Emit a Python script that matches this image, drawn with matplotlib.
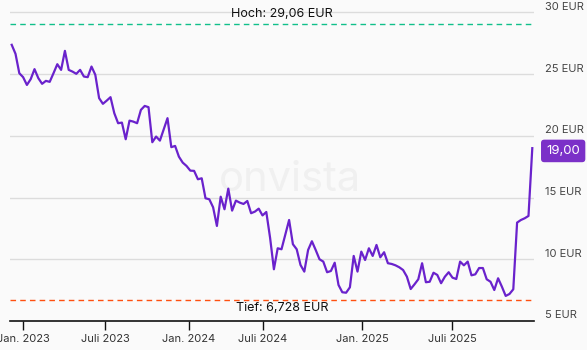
import matplotlib
matplotlib.use("Agg")
import matplotlib.pyplot as plt
from matplotlib.transforms import blended_transform_factory

plt.rcParams['font.family'] = ['Inter', 'DejaVu Sans']

# Kursverlauf (ca. wöchentliche Schlusskurse, EUR)
prices = [
    27.37, 26.64, 25.07, 24.75, 24.12, 24.59, 25.40, 24.67, 24.21, 24.45,
    24.37, 25.07, 25.80, 25.34, 26.88, 25.34, 25.20, 25.02, 25.34, 24.80,
    24.75, 25.61, 24.94, 23.05, 22.59, 22.85, 23.13, 21.83, 21.02, 21.07,
    19.72, 21.23, 21.15, 21.02, 22.10, 22.42, 22.32, 19.48, 19.94, 19.61,
    20.52, 21.43, 19.08, 19.18, 18.31, 17.83, 17.56, 17.18, 17.16, 16.48,
    16.56, 14.94, 14.86, 14.21, 12.70, 15.07, 14.05, 15.72, 13.94, 14.75,
    14.59, 14.48, 14.72, 13.73, 13.86, 14.10, 13.55, 13.83, 11.73, 9.19,
    10.89, 10.81, 12.00, 13.18, 11.22, 10.81, 9.54, 9.00, 10.75, 11.46,
    10.75, 10.00, 9.81, 8.95, 9.05, 9.72, 7.92, 7.33, 7.29, 7.73,
    10.27, 9.00, 10.62, 9.94, 10.89, 10.27, 11.16, 10.16, 10.57, 9.68,
    9.62, 9.51, 9.35, 9.13, 8.59, 7.59, 7.97, 8.38, 9.68, 8.14,
    8.18, 8.91, 8.73, 8.06, 8.59, 8.95, 8.51, 8.40, 9.81, 9.51,
    9.81, 8.70, 8.78, 9.29, 9.29, 8.38, 8.18, 7.51, 8.46, 7.78,
    7.03, 7.19, 7.57, 12.97, 13.18, 13.32, 13.51, 19.00,
]

high = 29.06
low = 6.728
last = 19.00

tick_pos = [3.05, 24.6, 46.6, 66.05, 92.3, 115.9]
tick_labels = ["Jan. 2023", "Juli 2023", "Jan. 2024", "Juli 2024", "Jan. 2025", "Juli 2025"]
y_levels = [5, 10, 15, 20, 25, 30]

bg = "#fafafa"
purple = "#6a22cc"

fig = plt.figure(figsize=(5.87, 3.5), dpi=100, facecolor=bg)
ax = fig.add_axes([10 / 587, 29 / 350, 524 / 587, 321 / 350], facecolor=bg)

x = list(range(len(prices)))
ax.set_xlim(-0.45, 137.45)
ax.set_ylim(5, 31)

# Raster
for v in y_levels[1:]:
    ax.axhline(v, color="#dcdcdc", lw=1, zorder=0)

# Wasserzeichen
ax.text(0.535, 0.44, "onvista", transform=ax.transAxes, fontsize=30,
        color="#f0f0f0", ha="center", va="center", zorder=0)

# Hoch / Tief
ax.axhline(high, color="#10c08a", lw=1, ls=(0, (4, 3)), zorder=1)
ax.axhline(low, color="#ff5010", lw=1, ls=(0, (4, 3)), zorder=1)
ax.annotate(f"Hoch: {high:.2f} EUR".replace(".", ","), (71.1, high),
            xytext=(0, 3), textcoords="offset points",
            ha="center", va="bottom", fontsize=9, color="#111111")
ax.annotate(f"Tief: {low:.3f} EUR".replace(".", ","), (71.1, low),
            xytext=(0, -2), textcoords="offset points",
            ha="center", va="top", fontsize=9, color="#111111")

ax.plot(x, prices, color=purple, lw=1.6, solid_joinstyle="round", zorder=3)

# Achsen
for s in ["top", "right", "left"]:
    ax.spines[s].set_visible(False)
ax.spines["bottom"].set_color("#111111")
ax.spines["bottom"].set_linewidth(1.2)
ax.set_yticks([])
ax.set_xticks(tick_pos)
ax.set_xticklabels(tick_labels, fontsize=8, color="#333333")
ax.tick_params(axis="x", length=6.5, width=1, color="#111111", pad=3)

trans = blended_transform_factory(ax.transAxes, ax.transData)
for v in y_levels:
    ax.annotate(f"{v} EUR", (1.0, v), xycoords=trans, xytext=(8, 4),
                textcoords="offset points", ha="left", va="center",
                fontsize=8, color="#444444", annotation_clip=False)

# Letzter Kurs
ax.annotate(f"{last:.2f}".replace(".", ","), (1.0, last), xycoords=trans,
            xytext=(21, -2), textcoords="offset points", ha="center", va="center",
            fontsize=9.5, color="white", annotation_clip=False,
            bbox=dict(boxstyle="round,pad=0.4,rounding_size=0.25",
                      fc="#7b30c8", ec="none"))

fig.savefig("out.png", dpi=100, facecolor=bg)
